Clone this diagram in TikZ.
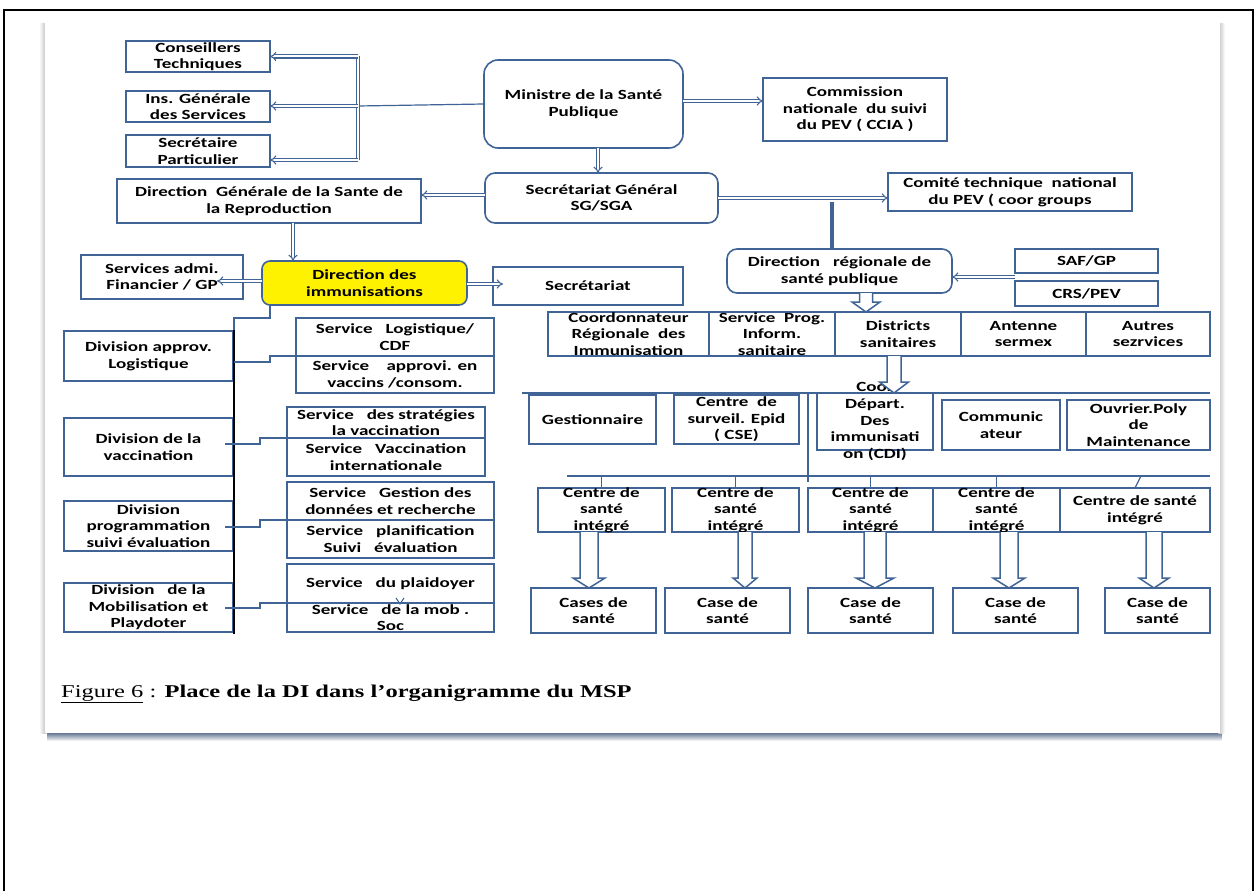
\documentclass[tikz,border=0pt]{standalone}
\usepackage{fontspec}
\newfontfamily\calf{Carlito}[FakeStretch=1.36]
\newfontfamily\timf{Liberation Serif}[FakeStretch=1.36]
\usetikzlibrary{arrows.meta,calc}
\definecolor{bl}{RGB}{64,100,150}
\tikzset{
  box/.style={draw=bl, line width=1.6pt, fill=white, inner sep=0pt, outer sep=0pt},
  txt/.style={font=\calf\bfseries\fontsize{14}{16.6}\selectfont, align=center, inner sep=0pt, text=black},
  dline/.style={draw=bl, line width=1.1pt, double=white, double distance=2pt},
  darr/.style={dline, -{Implies}},
  sline/.style={draw=bl, line width=1.3pt},
  barrow/.style={draw=bl, line width=1.5pt, fill=white, line join=miter},
}
\newcommand\obox[7][]{%
  \node[box,#1,minimum width={(#5-#3)*1pt},minimum height={(#6-#4)*1pt}] (#2) at ({(#3+#5)/2},{(#4+#6)/2}) {};
  \node[txt] (#2-t) at (#2.center) {#7};}
\newcommand\blkarr[5]{\draw[barrow] let \p1=(#1), \p2=(#2) in
  (\x1-#3pt,\y1) -- (\x1-#3pt,\y2+#5pt) -- (\x1-#4pt,\y2+#5pt) -- (\x1,\y2) --
  (\x1+#4pt,\y2+#5pt) -- (\x1+#3pt,\y2+#5pt) -- (\x1+#3pt,\y1);}
\begin{document}
\begin{tikzpicture}[x=1pt,y=-1pt]
\useasboundingbox (0,0) rectangle (1257,891);
% outer frame
\draw[black, line width=1.6pt] (4,891) -- (4,10) -- (1253,10) -- (1253,891);
% panel with shadow
\shade[top color=bl!70!black, bottom color=white] (47,730) rectangle (1222,741);
\shade[left color=white, right color=gray!50] (39,24) rectangle (46,733);
\shade[left color=gray!50, right color=white] (1218,24) rectangle (1225,733);
\fill[white] (45,22) rectangle (1220,733);

% ---- top part
\obox{ct}{126}{41}{270}{72}{Conseillers\\Techniques}
\obox{igs}{126}{91}{270}{122}{Ins. Générale\\des Services}
\obox{sp}{126}{135}{270}{167}{Secrétaire\\Particulier}
\obox[rounded corners=14pt]{min}{484}{60}{683}{148}{Ministre de la Santé\\Publique}
\obox{ccia}{763}{78}{947}{141}{Commission\\nationale~~du suivi\\du PEV ( CCIA )}
\obox[rounded corners=10pt]{sg}{485}{173}{718}{223}{Secrétariat Général\\SG/SGA}
\obox{dgsr}{117}{179}{421}{223}{Direction~ Générale de la Sante de\\la Reproduction}
\obox{ctn}{888}{173}{1132}{211}{Comité technique~ national\\du PEV ( coor groups}
\obox[rounded corners=10pt]{drsp}{727}{249}{952}{293}{Direction~~ régionale de\\santé publique}
\obox{safgp}{1015}{249}{1158}{273}{SAF/GP}
\obox{crspev}{1015}{281}{1158}{306}{CRS/PEV}
\obox{sadm}{81}{255}{243}{299}{Services admi.\\Financier / GP}
\obox[rounded corners=8pt, fill=yellow]{di}{262}{261}{467}{305}{Direction des\\immunisations}
\obox{sec}{493}{267}{683}{305}{Secrétariat}

% ---- regional row
\obox{crdi}{548}{312}{709}{356}{Coordonnateur\\Régionale~ des\\Immunisation}
\obox{spis}{709}{312}{835}{356}{Service~ Prog.\\Inform.\\sanitaire}
\obox{ds}{835}{312}{961}{356}{Districts\\sanitaires}
\obox{ant}{961}{312}{1086}{356}{Antenne\\sermex}
\obox{aut}{1086}{312}{1210}{356}{Autres\\sezrvices}

% ---- district row
\obox{gest}{529}{395}{656}{444}{Gestionnaire}
\obox{cse}{674}{395}{799}{444}{Centre~ de\\surveil. Epid\\( CSE)}
\obox{cdi}{817}{393}{933}{450}{Coor\\Départ.\\Des\\immunisati\\on (CDI)}
\obox{com}{942}{400}{1060}{450}{Communic\\ateur}
\obox{ouv}{1067}{400}{1210}{450}{Ouvrier.Poly\\de\\Maintenance}

% ---- CSI row
\obox{csi1}{538}{488}{665}{532}{Centre de\\santé\\intégré}
\obox{csi2}{672}{488}{799}{532}{Centre de\\santé\\intégré}
\obox{csi3}{808}{488}{933}{532}{Centre de\\santé\\intégré}
\obox{csi4}{933}{488}{1060}{532}{Centre de\\santé\\intégré}
\obox{csi5}{1060}{488}{1210}{532}{Centre de santé\\intégré}

% ---- case row
\obox{case1}{531}{588}{656}{633}{Cases de\\santé}
\obox{case2}{665}{588}{790}{633}{Case de\\santé}
\obox{case3}{808}{588}{933}{633}{Case de\\santé}
\obox{case4}{953}{588}{1078}{633}{Case de\\santé}
\obox{case5}{1105}{588}{1210}{633}{Case de\\santé}

% ---- left column
\obox{dal}{64}{331}{233}{381}{Division approv.\\Logistique}
\obox{dv}{64}{418}{233}{476}{Division de la\\vaccination}
\obox{dp}{64}{501}{233}{551}{Division\\programmation\\suivi évaluation}
\obox{dm}{64}{583}{233}{632}{Division~~ de la\\Mobilisation et\\Playdoter}
\obox{sl}{296}{318}{494}{356}{Service~~ Logistique/\\CDF}
\obox{sapp}{296}{356}{494}{393}{Service~~~ approvi. en\\vaccins /consom.}
\obox{ss}{287}{407}{485}{438}{Service~~ des stratégies\\la vaccination}
\obox{svi}{287}{438}{485}{476}{Service~~ Vaccination\\internationale}
\obox{sgd}{287}{482}{494}{520}{Service~~ Gestion des\\données et recherche}
\obox{spl}{287}{520}{494}{558}{Service~~ planification\\Suivi~~ évaluation}
\obox{spd}{287}{564}{494}{603}{Service~~ du plaidoyer}
\obox{smo}{287}{603}{494}{632}{Service~~ de la mob .\\Soc}

% ---- connectors top
\coordinate (brk) at (358,106);
\coordinate (bt) at (358,56.5);
\coordinate (bb) at (358,160);
\draw[sline, line width=1.2pt] (min.west) -- (brk);
\draw[dline] (bt) -- (bb);
\draw[darr] (bt) -- (ct.east);
\draw[darr] (brk) -- (igs.east |- brk);
\draw[darr] (bb) -- (sp.east |- bb);
\draw[darr] (min.east |- 0,101) -- (ccia.west |- 0,101);
\draw[darr] (598,0 |- min.south) -- (598,0 |- sg.north);
\draw[darr] (sg.west |- 0,195) -- (dgsr.east |- 0,195);
\draw[darr] (sg.east |- 0,198) -- (ctn.west |- 0,198);
\coordinate (j1) at (832,202);
\draw[bl, line width=4.5pt] (j1) -- (832,0 |- drsp.north);
\draw[darr] ($(safgp.south west)!0.5!(crspev.north west)$) -- (drsp.east |- 0,277);
\draw[darr] (293,0 |- dgsr.south) -- (293,0 |- di.north);
\draw[darr] (di.west |- 0,281) -- ($(sadm.east |- 0,281)+(-26,0)$);
\draw[darr] (di.east |- 0,284) -- ($(sec.west |- 0,284)+(10,0)$);

% ---- left column connectors
\draw[sline] (270,0 |- di.south) -- (270,318) -- (234,318) -- (234,331);
\draw[black, line width=2.6pt] (234,330) -- (234,634);
\draw[sline] (234,362) -- (270,362) -- (270,356) -- (sl.south west);
\draw[sline] ($(dv.east |- 0,444)+(-8,0)$) -- (260,444) -- (260,438) -- (ss.south west);
\draw[sline] ($(dp.east |- 0,527)+(-8,0)$) -- (260,527) -- (260,520) -- (sgd.south west);
\draw[sline] ($(dm.east |- 0,608)+(-8,0)$) -- (260,608) -- (260,603) -- (spd.south west);
\draw[sline, line width=1pt] (396,598) -- (400,604) -- (404,598);

% ---- right area lines
\draw[sline] (522,393) -- (1210,393);
\draw[sline] (808,393) -- (808,482);
\draw[sline] (567,476) -- (1210,476);
\draw[sline] (csi1.north) -- ++(0,-12);
\draw[sline] (csi2.north) -- ++(0,-12);
\draw[sline] (csi3.north) -- ++(0,-12);
\draw[sline] (csi4.north) -- ++(0,-12);
\draw[sline] (csi5.north) -- ++(6,-12);

% ---- block arrows
\blkarr{866,0 |- drsp.south}{866,0 |- ds.north}{6.5}{14}{10}
\blkarr{894,0 |- ds.south}{894,0 |- cdi.north}{7}{14.5}{11}
\blkarr{589,0 |- csi1.south}{589,0 |- case1.north}{9}{16}{10}
\blkarr{745,0 |- csi2.south}{745,0 |- case2.north}{7}{12}{10}
\blkarr{875,0 |- csi3.south}{875,0 |- case3.north}{11}{19}{10}
\blkarr{1009,0 |- csi4.south}{1009,0 |- case4.north}{9}{16}{10}
\blkarr{1154,0 |- csi5.south}{1154,0 |- case5.north}{8}{15}{10}

% ---- caption
\node[anchor=base west, inner sep=0pt, font=\timf\fontsize{18}{20}\selectfont] (cap) at (61,697)
  {\underline{Figure 6} : \textbf{Place de la DI dans l’organigramme du MSP}};
\end{tikzpicture}
\end{document}
